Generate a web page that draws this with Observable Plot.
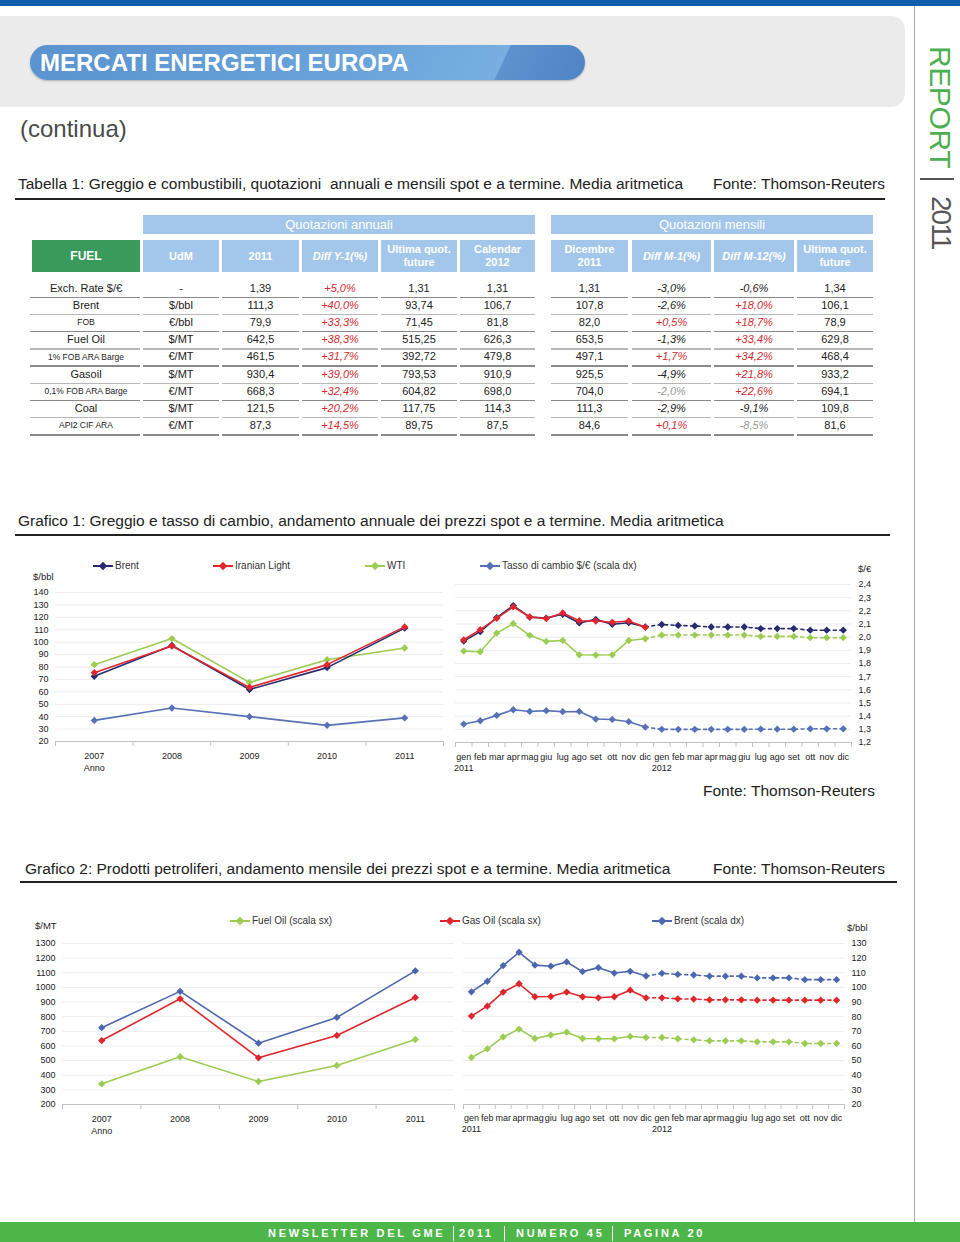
<!DOCTYPE html>
<html><head><meta charset="utf-8">
<script src="https://cdn.jsdelivr.net/npm/d3@7"></script>
<script src="https://cdn.jsdelivr.net/npm/@observablehq/plot@0.6"></script>
<style>
body{margin:0;background:#fff;font-family:"Liberation Sans",Arial,sans-serif;}
#page{position:relative;width:960px;height:1242px;overflow:hidden;background:#fff;}
#page div{position:absolute;white-space:nowrap;}
#page svg{position:absolute;}
</style></head><body><div id="page"></div>
<script>
// ---------------- DATA ----------------
// Table 1
const fuelNames = ["Exch. Rate $/€","Brent","FOB","Fuel Oil","1% FOB ARA Barge","Gasoil","0,1% FOB ARA Barge","Coal","API2 CIF ARA"];
const udm = ["-","$/bbl","€/bbl","$/MT","€/MT","$/MT","€/MT","$/MT","€/MT"];
const val2011 = ["1,39","111,3","79,9","642,5","461,5","930,4","668,3","121,5","87,3"];
const diffY1 = ["+5,0%","+40,0%","+33,3%","+38,3%","+31,7%","+39,0%","+32,4%","+20,2%","+14,5%"];
const ultimaAnn = ["1,31","93,74","71,45","515,25","392,72","793,53","604,82","117,75","89,75"];
const calendar2012 = ["1,31","106,7","81,8","626,3","479,8","910,9","698,0","114,3","87,5"];
const dic2011 = ["1,31","107,8","82,0","653,5","497,1","925,5","704,0","111,3","84,6"];
const diffM1 = ["-3,0%","-2,6%","+0,5%","-1,3%","+1,7%","-4,9%","-2,0%","-2,9%","+0,1%"];
const diffM12 = ["-0,6%","+18,0%","+18,7%","+33,4%","+34,2%","+21,8%","+22,6%","-9,1%","-8,5%"];
const ultimaMens = ["1,34","106,1","78,9","629,8","468,4","933,2","694,1","109,8","81,6"];
const annHeaders = ["UdM","2011","Diff Y-1(%)","Ultima quot.<br>future","Calendar<br>2012"];
const menHeaders = ["Dicembre<br>2011","Diff M-1(%)","Diff M-12(%)","Ultima quot.<br>future"];

// Chart 1 – annual ($/bbl, exchange rate $/€)
const years = [2007, 2008, 2009, 2010, 2011];
const brentAnnual = [72.5, 97.3, 61.9, 79.5, 111.3];
const iranianAnnual = [75.4, 96.9, 63.6, 81.9, 112.3];
const wtiAnnual = [81.9, 102.9, 67.6, 85.9, 95.3];
const fxAnnual = [1.37, 1.47, 1.40, 1.33, 1.39];

// Chart 1 – monthly 2011 (spot) and 2012 (forward)
const months = ["gen","feb","mar","apr","mag","giu","lug","ago","set","ott","nov","dic"];
const brentM2011 = [97.0, 104.2, 114.9, 124.0, 115.2, 114.5, 117.4, 110.8, 113.5, 109.8, 111.0, 107.8];
const brentF2012 = [109.6, 108.9, 108.5, 107.7, 107.7, 107.7, 106.5, 106.5, 106.5, 105.3, 105.3, 105.3];
const iranianM2011 = [98.0, 105.7, 114.3, 123.0, 115.3, 114.1, 118.4, 112.5, 112.3, 111.3, 112.3, 107.5];
const wtiM2011 = [89.4, 88.9, 103.1, 110.3, 101.4, 96.8, 97.5, 86.6, 86.4, 86.6, 97.5, 98.8];
const wtiF2012 = [101.6, 101.6, 101.6, 101.6, 101.6, 101.6, 100.6, 100.6, 100.6, 99.6, 99.6, 99.6];
const fxM2011 = [1.340, 1.365, 1.406, 1.449, 1.436, 1.442, 1.434, 1.436, 1.378, 1.375, 1.358, 1.317];
const fxF2012 = [1.300, 1.300, 1.300, 1.300, 1.300, 1.300, 1.301, 1.301, 1.301, 1.304, 1.304, 1.304];

// Chart 2 – annual ($/MT, Brent $/bbl)
const fuelOilAnnual = [341, 526, 357, 467, 644];
const gasOilAnnual = [637, 922, 519, 672, 931];

// Chart 2 – monthly
const fuelOilM2011 = [521, 580, 662, 715, 651, 674, 694, 651, 649, 649, 665, 658];
const fuelOilF2012 = [658, 649, 642, 635, 635, 635, 628, 628, 628, 617, 617, 617];
const gasOilM2011 = [804, 872, 968, 1025, 936, 938, 968, 936, 929, 936, 981, 929];
const gasOilF2012 = [929, 922, 920, 915, 915, 915, 913, 913, 913, 913, 913, 913];

// ---------------- HELPERS ----------------
const FONT = "'Liberation Sans', Arial, sans-serif";
const page = document.getElementById("page");
function box(x, y, w, h, css = {}, html = "") {
  const d = document.createElement("div");
  Object.assign(d.style, {left: x + "px", top: y + "px", width: w + "px", height: h + "px"}, css);
  d.innerHTML = html;
  page.appendChild(d);
  return d;
}
function text(x, yc, str, size, css = {}, anchor = "start") {
  const d = document.createElement("div");
  Object.assign(d.style, {top: (yc - size / 2) + "px", fontSize: size + "px", lineHeight: size + "px", color: "#222"}, css);
  if (anchor === "start") d.style.left = x + "px";
  else if (anchor === "end") d.style.right = (960 - x) + "px";
  else { d.style.left = x + "px"; d.style.transform = "translateX(-50%)"; }
  d.innerHTML = str;
  page.appendChild(d);
  return d;
}
const comma = (v, p) => d3.format(`.${p}f`)(v).replace(".", ",");

// ---------------- PAGE FRAME ----------------
box(0, 0, 960, 6, {background: "#0d5eab"});
box(914, 6, 1, 1216, {background: "#a8a8a8"});
box(0, 16, 905, 91, {background: "#ebebeb", borderRadius: "0 14px 14px 0"});
box(30, 45, 555, 35, {
  background: "linear-gradient(115deg, #5a93cf 0%, #6aa4da 60%, #77afe0 84%, #5d92cf 84.3%, #4f84c4 100%)",
  borderRadius: "18px", boxShadow: "0 1px 2px rgba(0,0,0,0.25)"
});
text(40, 63, "MERCATI ENERGETICI EUROPA", 24, {color: "#fff", fontWeight: "bold"});
text(20, 129, "(continua)", 24, {color: "#4a4a4a"});

// vertical REPORT | 2011
box(923, 46, 34, 125, {writingMode: "vertical-rl", fontSize: "30px", lineHeight: "34px", color: "#4caf50", letterSpacing: "-0.4px"}, "REPORT");
box(920, 178, 34, 2, {background: "#555"});
box(924, 196, 34, 60, {writingMode: "vertical-rl", fontSize: "28px", lineHeight: "34px", color: "#555", letterSpacing: "-2px"}, "2011");

// bottom bar
box(0, 1222, 960, 20, {background: "#4cb748"});
const footParts = [[268, "NEWSLETTER DEL GME"], [459, "2011"], [516, "NUMERO 45"], [624, "PAGINA 20"]];
footParts.forEach(([x, s]) => text(x, 1233, s, 11, {color: "#fff", fontWeight: "bold", letterSpacing: "2.7px"}));
[453, 504, 612].forEach(x => box(x, 1226, 1, 15, {background: "#fff"}));

// ---------------- TABLE ----------------
text(18, 184, "Tabella 1: Greggio e combustibili, quotazioni&nbsp; annuali e mensili spot e a termine. Media aritmetica", 15.5);
text(885, 184, "Fonte: Thomson-Reuters", 15.5, {}, "end");
box(15, 198, 870, 1.5, {background: "#222"});

const HDR = "#a3c7ea";
box(143, 215, 392, 19, {background: HDR, color: "#fff", fontSize: "13px", lineHeight: "19px", textAlign: "center"}, "Quotazioni annuali");
box(551, 215, 322, 19, {background: HDR, color: "#fff", fontSize: "13px", lineHeight: "19px", textAlign: "center"}, "Quotazioni mensili");
box(32, 240, 108, 32, {background: "#3a9a5c", color: "#fff", fontSize: "12px", fontWeight: "bold", display: "flex", alignItems: "center", justifyContent: "center"}, "FUEL");

const annCols = [[143, 219], [222, 299], [302, 378], [381, 457], [460, 535]];
const menCols = [[551, 628], [632, 711], [714, 794], [797, 873]];
function headerCell([a, b], label) {
  const italic = label.startsWith("Diff");
  box(a, 240, b - a, 32, {background: HDR, color: "#fff", fontSize: "11px", lineHeight: "13px", fontWeight: "bold",
    fontStyle: italic ? "italic" : "normal", display: "flex", alignItems: "center", justifyContent: "center", textAlign: "center"}, label);
}
annCols.forEach((c, i) => headerCell(c, annHeaders[i]));
menCols.forEach((c, i) => headerCell(c, menHeaders[i]));

const mutedCells = new Set(["M1-6", "M12-8"]);
const rowY = i => 288 + i * 17.2;
const annColsData = [udm, val2011, diffY1, ultimaAnn, calendar2012];
const menColsData = [dic2011, diffM1, diffM12, ultimaMens];
fuelNames.forEach((name, i) => {
  const y = rowY(i);
  const sub = i % 2 === 0 && i > 0;
  text(86, y, name, sub ? 8.5 : 11, {}, "middle");
  const lineCss = {background: i % 2 === 0 ? "#8a8a8a" : "#b8b8b8"};
  const ly = y + 8.5;
  box(30, ly, 110, 1.5, lineCss);
  const cell = (cols, data, key) => cols.forEach(([a, b], c) => {
    const v = data[c][i];
    const isDiff = v.endsWith("%");
    let color = "#222";
    if (isDiff) color = v.startsWith("+") ? "#d42a30" : "#222";
    if (mutedCells.has(key(c) + "-" + i)) color = "#999";
    text((a + b) / 2, y, v, 11, {color, fontStyle: isDiff ? "italic" : "normal"}, "middle");
    box(a, ly, b - a, 1.5, lineCss);
  });
  cell(annCols, annColsData, c => "Y" + c);
  cell(menCols, menColsData, c => ["D", "M1", "M12", "U"][c]);
});

// ---------------- CHARTS ----------------
function seriesMarks(solid, dashed, color) {
  const m = [Plot.line(solid, {x: "x", y: "y", stroke: color, strokeWidth: 1.6})];
  if (dashed) m.push(Plot.line(dashed, {x: "x", y: "y", stroke: color, strokeWidth: 1.6, strokeDasharray: "3,3.5"}));
  const pts = dashed ? solid.concat(dashed.slice(1)) : solid;
  m.push(Plot.dot(pts, {x: "x", y: "y", fill: color, stroke: "none", symbol: "diamond2", r: 3.3}));
  return m;
}
function panel(o) {
  const svg = Plot.plot({
    width: o.w, height: o.h, marginLeft: o.ml, marginRight: o.mr, marginTop: o.mt, marginBottom: o.mb,
    style: {fontFamily: FONT, fontSize: "9px", color: "#222", background: "transparent", overflow: "visible"},
    x: {type: "linear", domain: o.xDomain, label: null},
    y: {type: "linear", domain: o.yDomain, label: null},
    marks: [
      Plot.gridY(o.yTicks, {stroke: "#ececec", strokeOpacity: 1}),
      Plot.ruleY([o.yDomain[0]], {stroke: "#c2c2c2"}),
      Plot.axisX(o.xBounds, {tickSize: 5, tickFormat: () => "", stroke: "#c2c2c2", label: null}),
      Plot.axisX(o.xTicks, {tickSize: 0, tickPadding: o.xPad, tickFormat: o.xFormat, lineHeight: o.lh, label: null}),
      Plot.axisY(o.yTicks, {anchor: o.yAnchor, tickSize: 0, tickPadding: 7, tickFormat: o.yFormat, label: null}),
      ...o.marks
    ]
  });
  svg.style.left = o.left + "px";
  svg.style.top = o.top + "px";
  page.appendChild(svg);
}
const pts = (xs, ys, f = v => v) => xs.map((x, i) => ({x, y: f(ys[i])}));
const idx2011 = d3.range(12), idx2012 = d3.range(12, 24);
const monthly = (a, f, fn = v => v) => {
  const s = pts(idx2011, a, fn);
  const d = f ? [s[11]].concat(pts(idx2012, f, fn)) : null;
  return [s, d];
};
const monthFmt = i => months[i % 12] + (i === 0 ? "\n2011" : i === 12 ? "\n2012" : "");
const yearFmt = y => y === 2007 ? "2007\nAnno" : String(y);

function legend(x, y, color, label) {
  box(x, y - 0.75, 20, 1.5, {background: color});
  box(x + 7, y - 3, 6, 6, {background: color, transform: "rotate(45deg)"});
  text(x + 22, y, label, 10, {color: "#333"});
}

// Chart 1
text(18, 521, "Grafico 1: Greggio e tasso di cambio, andamento annuale dei prezzi spot e a termine. Media aritmetica", 15.5);
box(15, 534, 875, 1.5, {background: "#222"});
const C1 = {navy: "#252b6e", red: "#e3262d", green: "#9ccc52", blue: "#5671b5"};
const fx2bbl = r => 20 + (r - 1.2) * 100;       // $/€ (right) aligned to $/bbl (left): 1,2↔20 … 2,4↔140
legend(93, 566, C1.navy, "Brent");
legend(213, 566, C1.red, "Iranian Light");
legend(365, 566, C1.green, "WTI");
legend(480, 566, C1.blue, "Tasso di cambio $/€ (scala dx)");
text(33, 577, "$/bbl", 9.5);
text(858, 569, "$/€", 9.5);
const t1 = d3.range(20, 141, 10);
panel({left: 0, top: 560, w: 450, h: 220, ml: 55, mr: 7, mt: 32, mb: 39,
  xDomain: [2006.5, 2011.5], xBounds: d3.range(2006.5, 2012, 1), xTicks: years, xFormat: yearFmt, xPad: 9, lh: 1.3,
  yDomain: [20, 140], yTicks: t1, yAnchor: "left", yFormat: d => String(d),
  marks: [
    ...seriesMarks(pts(years, fxAnnual, fx2bbl), null, C1.blue),
    ...seriesMarks(pts(years, wtiAnnual), null, C1.green),
    ...seriesMarks(pts(years, brentAnnual), null, C1.navy),
    ...seriesMarks(pts(years, iranianAnnual), null, C1.red)
  ]});
panel({left: 450, top: 560, w: 440, h: 220, ml: 5, mr: 39, mt: 24, mb: 38,
  xDomain: [-0.5, 23.5], xBounds: d3.range(-0.5, 24, 1), xTicks: d3.range(24), xFormat: monthFmt, xPad: 9, lh: 1.25,
  yDomain: [20, 140], yTicks: t1, yAnchor: "right", yFormat: v => comma(1.2 + (v - 20) / 100, 1),
  marks: [
    ...seriesMarks(...monthly(fxM2011, fxF2012, fx2bbl), C1.blue),
    ...seriesMarks(...monthly(wtiM2011, wtiF2012), C1.green),
    ...seriesMarks(...monthly(brentM2011, brentF2012), C1.navy),
    ...seriesMarks(...monthly(iranianM2011, null), C1.red)
  ]});
text(875, 791, "Fonte: Thomson-Reuters", 15.5, {}, "end");

// Chart 2
text(25, 869, "Grafico 2: Prodotti petroliferi, andamento mensile dei prezzi spot e a termine. Media aritmetica", 15.5);
text(885, 869, "Fonte: Thomson-Reuters", 15.5, {}, "end");
box(20, 881, 877, 1.5, {background: "#222"});
const C2 = {green: "#9ccc52", red: "#e0262c", blue: "#4c67ae"};
const bbl2mt = b => 200 + (b - 20) * 10;        // $/bbl (right) aligned to $/MT (left): 20↔200 … 130↔1300
legend(230, 921, C2.green, "Fuel Oil (scala sx)");
legend(440, 921, C2.red, "Gas Oil (scala sx)");
legend(652, 921, C2.blue, "Brent (scala dx)");
text(35, 926, "$/MT", 9.5);
text(847, 928, "$/bbl", 9.5);
const t2 = d3.range(200, 1301, 100);
panel({left: 0, top: 905, w: 458, h: 235, ml: 62, mr: 4, mt: 38, mb: 36,
  xDomain: [2006.5, 2011.5], xBounds: d3.range(2006.5, 2012, 1), xTicks: years, xFormat: yearFmt, xPad: 9, lh: 1.3,
  yDomain: [200, 1300], yTicks: t2, yAnchor: "left", yFormat: d => String(d),
  marks: [
    ...seriesMarks(pts(years, fuelOilAnnual), null, C2.green),
    ...seriesMarks(pts(years, gasOilAnnual), null, C2.red),
    ...seriesMarks(pts(years, brentAnnual, bbl2mt), null, C2.blue)
  ]});
panel({left: 458, top: 905, w: 440, h: 235, ml: 5, mr: 54, mt: 38, mb: 36,
  xDomain: [-0.5, 23.5], xBounds: d3.range(-0.5, 24, 1), xTicks: d3.range(24), xFormat: monthFmt, xPad: 8, lh: 1.25,
  yDomain: [200, 1300], yTicks: t2, yAnchor: "right", yFormat: v => String(Math.round(20 + (v - 200) / 10)),
  marks: [
    ...seriesMarks(...monthly(fuelOilM2011, fuelOilF2012), C2.green),
    ...seriesMarks(...monthly(gasOilM2011, gasOilF2012), C2.red),
    ...seriesMarks(...monthly(brentM2011, brentF2012, bbl2mt), C2.blue)
  ]});
</script></body></html>
